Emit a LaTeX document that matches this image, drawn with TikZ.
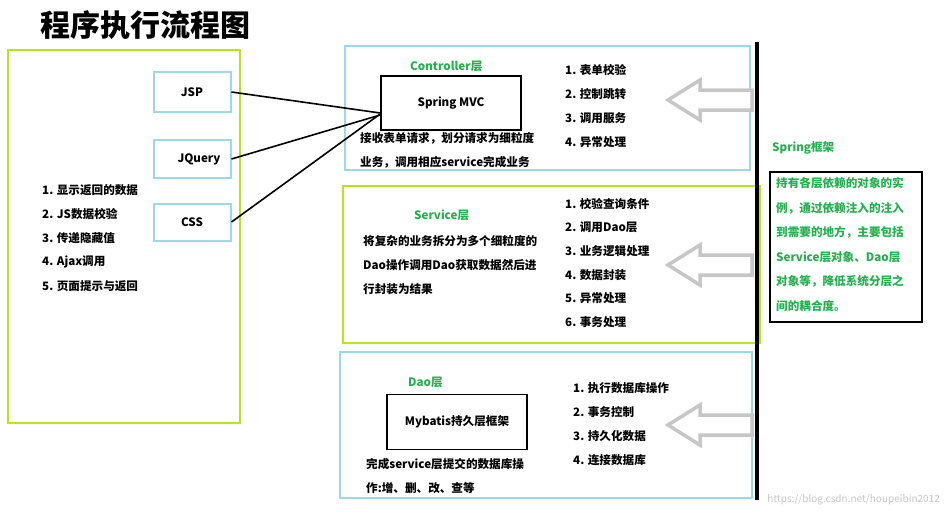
\documentclass[tikz,border=0pt]{standalone}
\usepackage{fontspec}
\setmainfont{Noto Sans CJK SC}
\begin{document}
\begin{tikzpicture}[x=1pt,y=-1pt,
  gbox/.style={draw=lime, line width=2pt},
  bbox/.style={draw=sky, line width=2pt},
  kbox/.style={draw=black, line width=1.6pt},
  f/.style={font=\bfseries\fontsize{11.6}{13}\selectfont},
  t/.style={anchor=west, inner sep=0, f},
  gt/.style={t, text=grn},
  conn/.style={line width=1.6pt},
  harrow/.style={draw=gray!45, line width=3.5pt, fill=white, line join=miter}]
\definecolor{lime}{HTML}{B5E61D}
\definecolor{sky}{HTML}{99D9EA}
\definecolor{grn}{HTML}{22B14C}
\useasboundingbox (0,0) rectangle (947,520);
\node[anchor=west, inner sep=0, font=\bfseries\fontsize{30}{34}\selectfont] (title) at (40,25) {程序执行流程图};
% left
\draw[gbox] (8,50) rectangle (240,423);
\node[bbox, minimum width=77, minimum height=40, inner sep=0, f] (jsp) at (192,92) {JSP};
\node[bbox, minimum width=77, minimum height=38, inner sep=0, f] (jq) at (192,159) {\hspace*{14pt}JQuery};
\node[bbox, minimum width=77, minimum height=37, inner sep=0, f] (css) at (192,222) {CSS};
\foreach \s [count=\i] in {1. 显示返回的数据,2. JS数据校验,3. 传递隐藏值,4. Ajax调用,5. 页面提示与返回}
  \node[t] (l\i) at (42,166+24*\i) {\s};
% controller
\draw[bbox] (345,46) rectangle (750,170);
\node[kbox, minimum width=140, minimum height=54, inner sep=0, f] (mvc) at (451,103) {Spring MVC};
\node[gt] (ct) at (410,66) {Controller层};
\node[t] (cd1) at (360,138) {接收表单请求，划分请求为细粒度};
\node[t] (cd2) at (360,162) {业务，调用相应service完成业务};
\foreach \s [count=\i] in {1. 表单校验,2. 控制跳转,3. 调用服务,4. 异常处理}
  \node[t] (c\i) at (565,46+24*\i) {\s};
% service
\draw[gbox] (343,186) rectangle (760,343);
\node[gt] (st) at (414,215) {Service层};
\node[t] (sd1) at (363,241) {将复杂的业务拆分为多个细粒度的};
\node[t] (sd2) at (363,265) {Dao操作调用Dao获取数据然后进};
\node[t] (sd3) at (363,289) {行封装为结果};
\foreach \s [count=\i] in {1. 校验查询条件,2. 调用Dao层,3. 业务逻辑处理,4. 数据封装,5. 异常处理,6. 事务处理}
  \node[t] (s\i) at (565,180.5+23.6*\i) {\s};
% dao
\draw[bbox] (340,352) rectangle (752,498);
\node[gt] (dt) at (408,382) {Dao层};
\node[kbox, minimum width=140, minimum height=55, inner sep=0, f] (mb) at (457,422) {Mybatis持久层框架};
\node[t] (dd1) at (366,464) {完成service层提交的数据库操};
\node[t] (dd2) at (366,488) {作:增、删、改、查等};
\foreach \s [count=\i] in {1. 执行数据库操作,2. 事务控制,3. 持久化数据,4. 连接数据库}
  \node[t] (d\i) at (573,364+24*\i) {\s};
% connectors
\draw[conn] (jsp.east) -- ([yshift=-10]mvc.west);
\draw[conn] (jq.east) -- ([yshift=-12]mvc.west);
\draw[conn] (css.east) -- ([yshift=-11]mvc.west);
% spine
\draw[line width=4.5pt] (757,42) -- (757,500);
\foreach \y in {100,265,425}
  \draw[harrow] (668,\y) -- (700,\y-20) -- (700,\y-10) -- (752,\y-10) -- (752,\y+10) -- (700,\y+10) -- (700,\y+20) -- cycle;
% spring
\node[gt] (sp) at (772,148) {Spring框架};
\draw[kbox, line width=1.3pt] (770,172) rectangle (922,322);
\foreach \s [count=\i] in {持有各层依赖的对象的实,例，通过依赖注入的注入,到需要的地方，主要包括,Service层对象、Dao层,对象等，降低系统分层之,间的耦合度。}
  \node[t, text=grn] (p\i) at (776,159+24.5*\i) {\s};
\node[anchor=east, inner sep=0, text=gray!45, font=\fontsize{10}{12}\selectfont] (wm) at (940,500) {https://blog.csdn.net/houpeibin2012};
\end{tikzpicture}
\end{document}
